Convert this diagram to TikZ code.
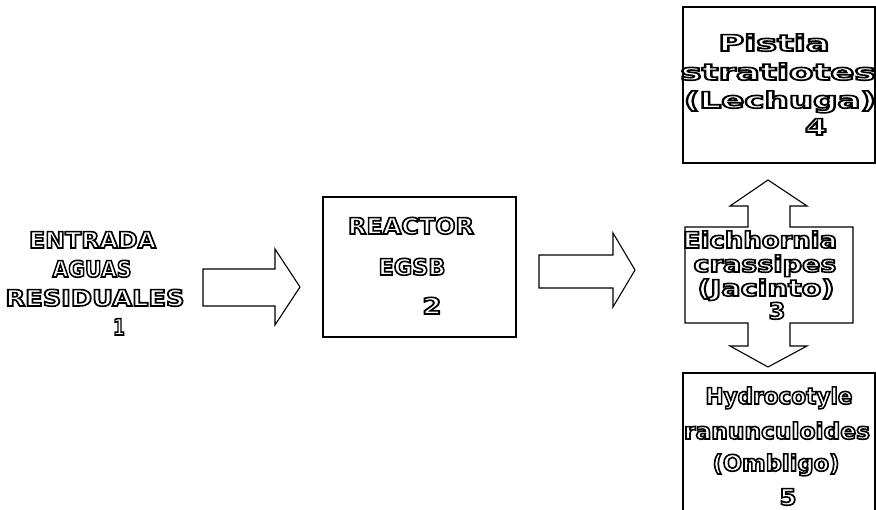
\documentclass[tikz,border=0pt]{standalone}
\usepackage{fontspec}
\usepackage{graphicx}
\newfontfamily\olfont{DejaVu Sans}
\newcommand{\olt}[2]{\resizebox{#1pt}{\height}{\special{pdf:literal direct 1 Tr 1.6 w}#2\special{pdf:literal direct 0 Tr}}}
\tikzset{
  oltext/.style={inner sep=0pt, anchor=base, font=\olfont\bfseries\fontsize{22.5}{26}\selectfont},
  boxshape/.style={draw=black, line width=1.1pt, fill=white, rectangle, inner sep=0pt},
  arrowshape/.style={draw=black, line width=1.1pt, fill=white, line join=miter}
}
\begin{document}
\begin{tikzpicture}[x=1pt, y=-1pt]
\useasboundingbox[fill=white] (0,0) rectangle (876,510);
% boxes
\node[boxshape, minimum width=193pt, minimum height=140pt] (reactor) at (419.5,267) {};
\node[boxshape, minimum width=192pt, minimum height=156pt] (lechuga) at (779,85) {};
\node[boxshape, minimum width=192pt, minimum height=156pt] (ombligo) at (779,451) {};
% arrows
\draw[arrowshape] (203,269) -- (275,269) -- (275,249) -- (300,287) -- (275,325) -- (275,306) -- (203,306) -- cycle;
\draw[arrowshape] (539,255) -- (613,255) -- (613,233) -- (635,270) -- (613,307) -- (613,288) -- (539,288) -- cycle;
\draw[arrowshape] (768,180) -- (807,206) -- (790,206) -- (790,227) -- (853,227) -- (853,323) -- (790,323) -- (790,346) -- (807,346) -- (768,367) -- (730,346) -- (748,346) -- (748,323) -- (685,323) -- (685,227) -- (748,227) -- (748,206) -- (730,206) -- cycle;
% texts
\node[oltext] (e1) at (92.5,248) {\olt{127}{ENTRADA}};
\node[oltext] (e2) at (92,277) {\olt{79}{AGUAS}};
\node[oltext] (e3) at (95,306) {\olt{179}{RESIDUALES}};
\node[oltext] (e4) at (119,335) {\olt{12}{1}};
\node[oltext] (r1) at (411,234) {\olt{126}{REACTOR}};
\node[oltext] (r2) at (412,275) {\olt{67}{EGSB}};
\node[oltext] (r3) at (432,314) {\olt{19}{2}};
\node[oltext] (j1) at (760,248) {\olt{154}{Eichhornia}};
\node[oltext] (j2) at (765,272) {\olt{143}{crassipes}};
\node[oltext] (j3) at (766,296) {\olt{137}{(Jacinto)}};
\node[oltext] (j4) at (777,319) {\olt{17}{3}};
\node[oltext] (l1) at (774,51) {\olt{111}{Pistia}};
\node[oltext] (l2) at (778,80) {\olt{195}{stratiotes}};
\node[oltext] (l3) at (780,108) {\olt{192}{(Lechuga)}};
\node[oltext] (l4) at (816,135) {\olt{22}{4}};
\node[oltext] (o1) at (779,404) {\olt{147}{Hydrocotyle}};
\node[oltext] (o2) at (777,439) {\olt{186}{ranunculoides}};
\node[oltext] (o3) at (776,471) {\olt{127}{(Ombligo)}};
\node[oltext] (o4) at (788,505) {\olt{17}{5}};
\end{tikzpicture}
\end{document}
